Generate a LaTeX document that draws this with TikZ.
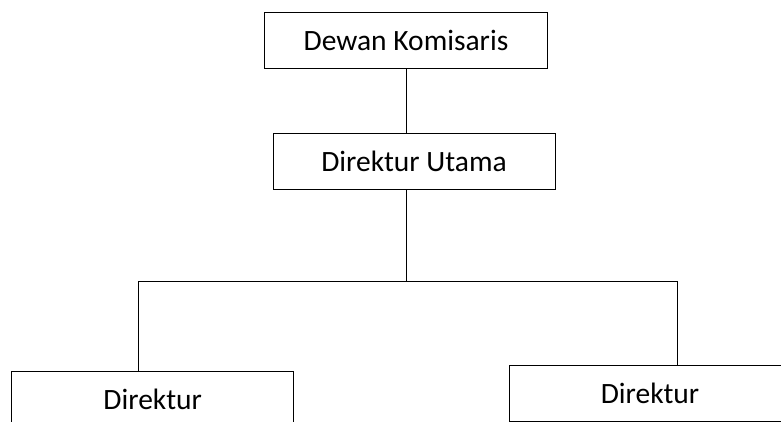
\documentclass[tikz,border=0pt]{standalone}
\usepackage{fontspec}
\setmainfont{Carlito}
\begin{document}
\begin{tikzpicture}[x=1pt,y=-1pt,
  box/.style={draw, line width=0.9pt, inner sep=0pt, font=\fontsize{29.5}{34}\selectfont},
  conn/.style={line width=0.9pt}]
\useasboundingbox (0,0) rectangle (781,422);
\clip (0,0) rectangle (781,422);
\node[box, minimum width=282.6pt, minimum height=55.6pt] (dk) at (406,40.5) {Dewan Komisaris};
\node[box, minimum width=282pt, minimum height=56pt] (du) at (414,161.3) {Direktur Utama};
\node[box, minimum width=282pt, minimum height=56pt] (l) at (152.7,399.7) {Direktur};
\node[box, minimum width=282pt, minimum height=55.3pt] (r) at (650,393.4) {Direktur};
\coordinate (j) at (406,281);
\coordinate (jl) at (138,281);
\coordinate (jr) at (677,281);
\draw[conn] (dk.south) -- (dk.south |- du.north);
\draw[conn] (dk.south |- du.south) -- (j);
\draw[conn] (jl |- l.north) -- (jl) -- (jr) -- (jr |- r.north);
\end{tikzpicture}
\end{document}
